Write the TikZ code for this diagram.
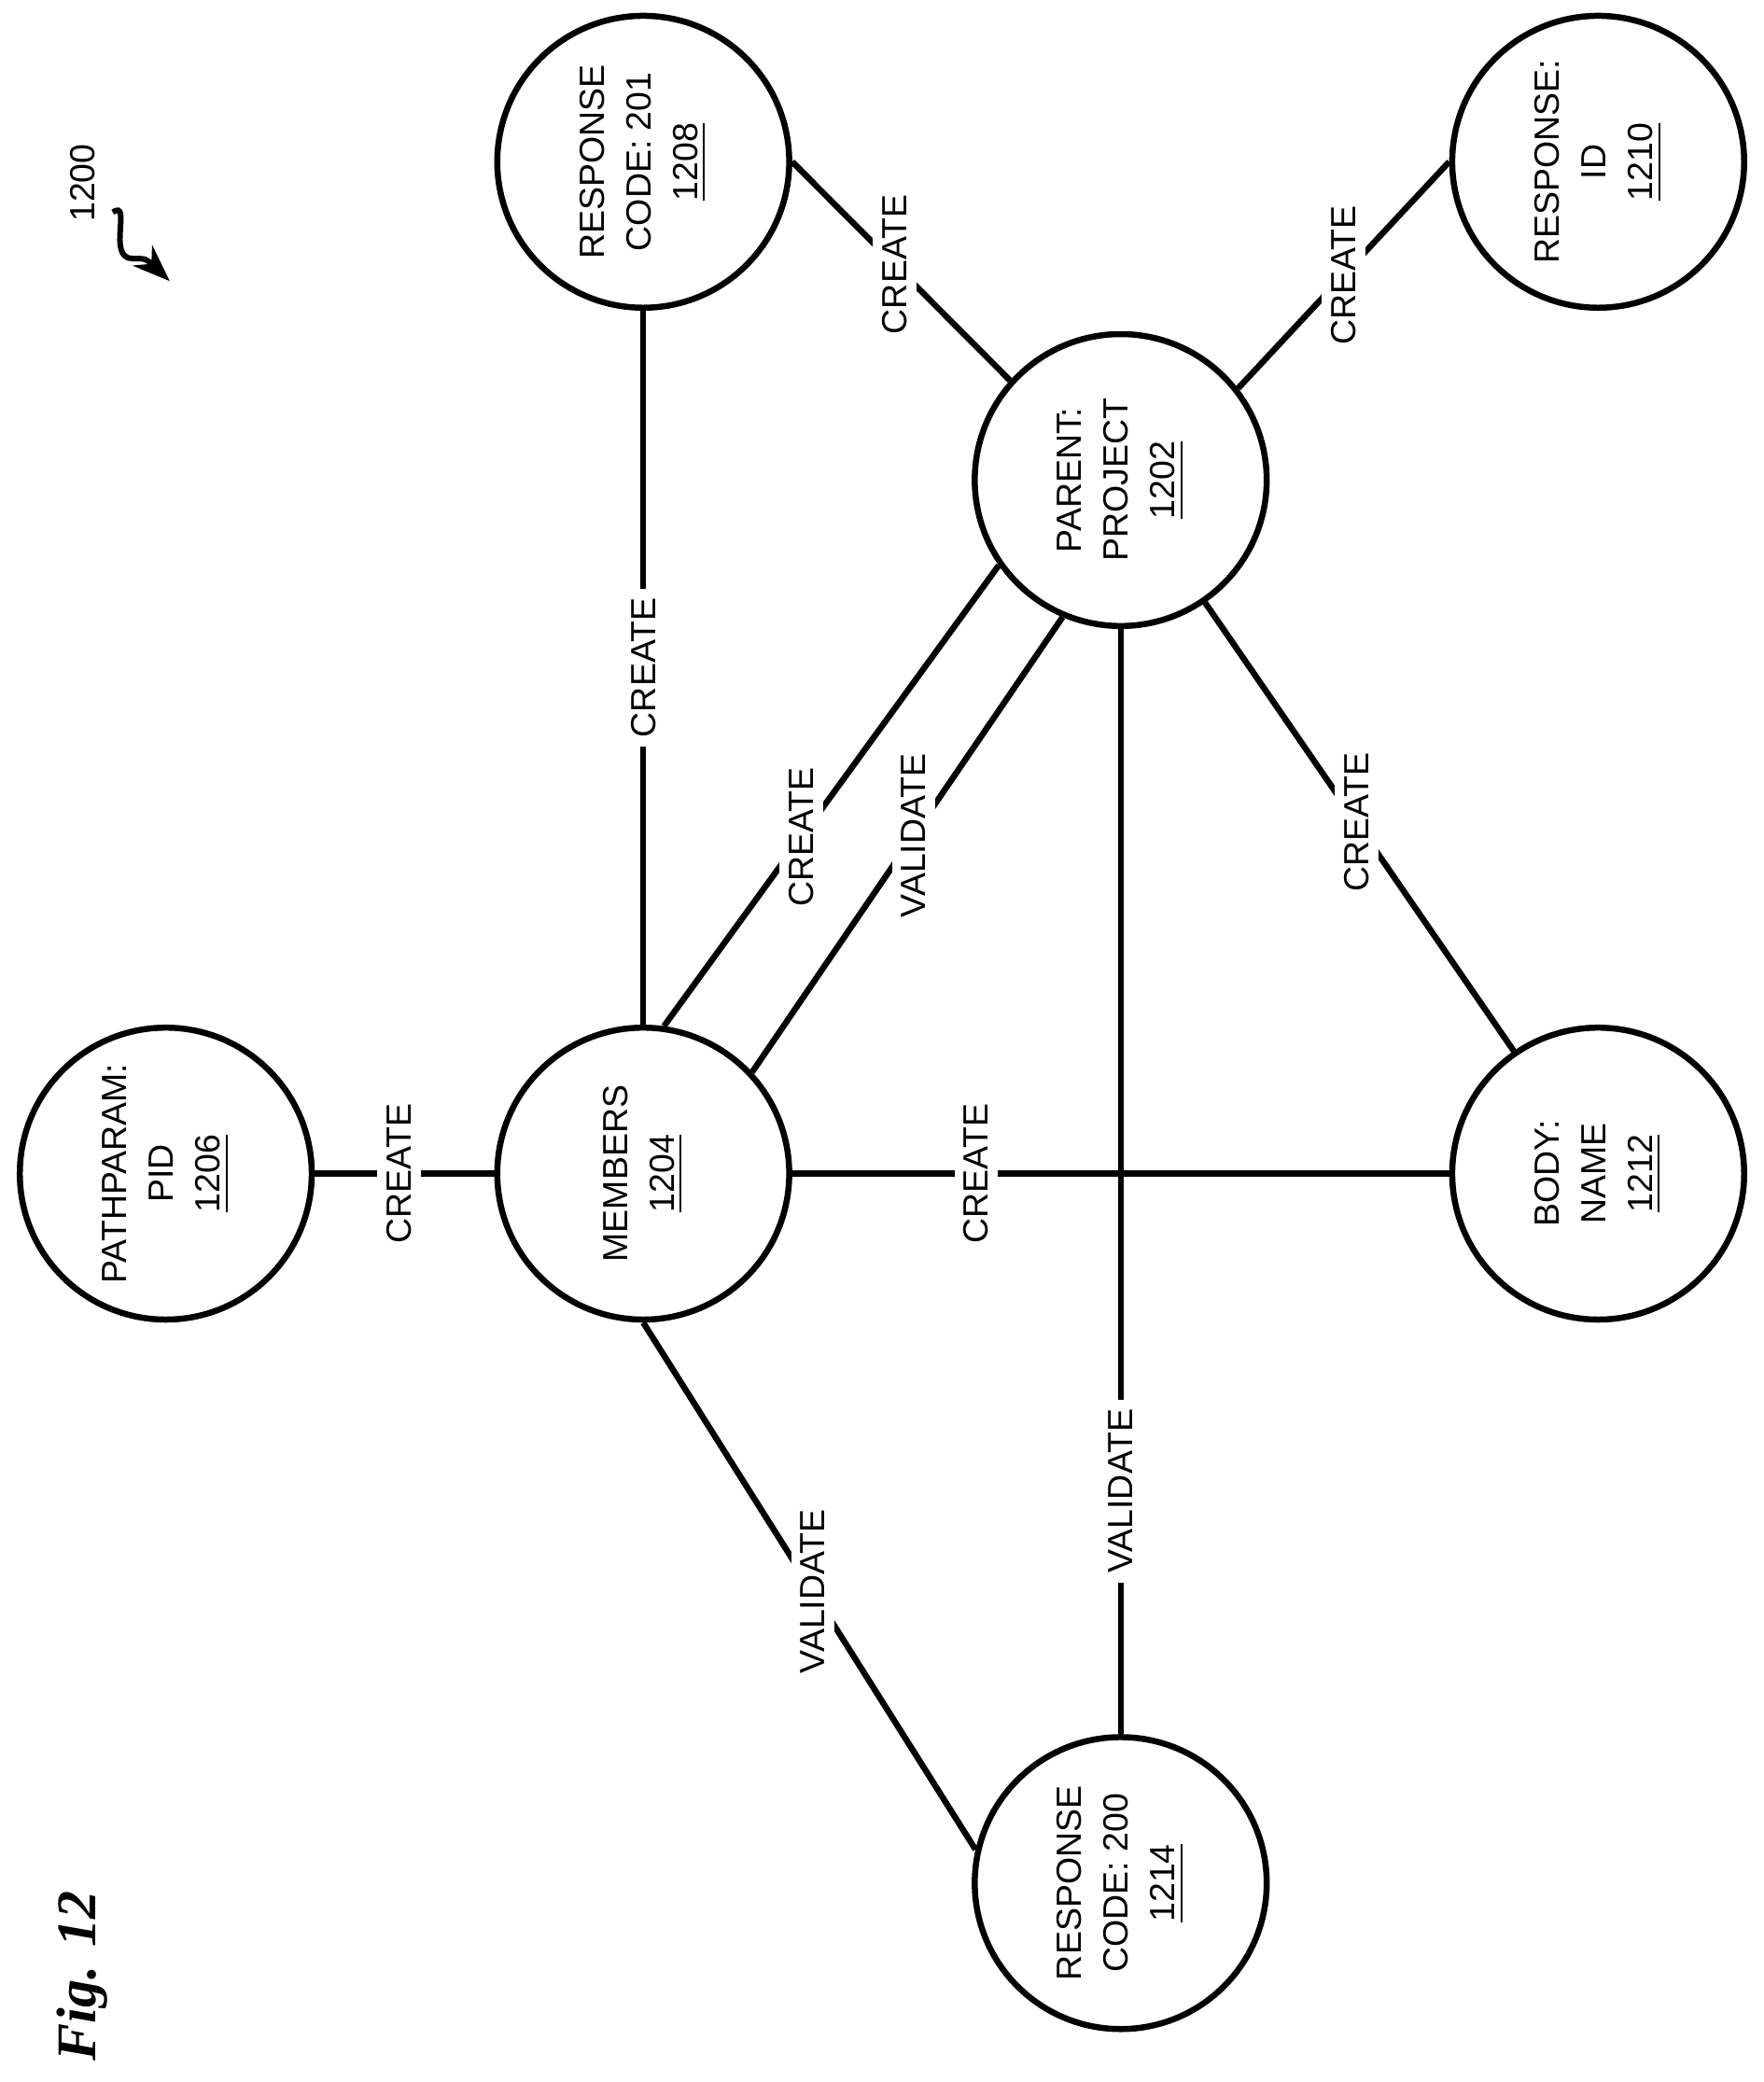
\documentclass[tikz,border=0pt]{standalone}
\usepackage{fontspec}
\setmainfont{Liberation Sans}
\newfontfamily\figfont{Liberation Serif}
\usetikzlibrary{arrows.meta}
\tikzset{
  param/.style={draw,circle,line width=1.3pt,minimum size=2.2cm,inner sep=0pt,
    rotate=90,align=center,font=\fontsize{7.5}{10}\selectfont},
  lbl/.style={fill=white,rotate=90,inner sep=2pt,font=\fontsize{7.5}{9}\selectfont},
  link/.style={line width=1.3pt}
}
\begin{document}
\begin{tikzpicture}[x=0.01cm,y=-0.01cm]
\useasboundingbox (0,0) rectangle (1330,1570);
% nodes (rotated, so anchor angles are turned by 90)
\node[param] (pid) at (125,885) {PATHPARAM:\\PID\\\underline{1206}};
\node[param] (mem) at (485,885) {MEMBERS\\\underline{1204}};
\node[param] (rc201) at (485,122) {RESPONSE\\CODE: 201\\\underline{1208}};
\node[param] (proj) at (845,362) {PARENT:\\PROJECT\\\underline{1202}};
\node[param] (rid) at (1205,122) {RESPONSE:\\ID\\\underline{1210}};
\node[param] (name) at (1205,885) {BODY:\\NAME\\\underline{1212}};
\node[param] (rc200) at (845,1420) {RESPONSE\\CODE: 200\\\underline{1214}};
% connectors
\draw[link] (pid) -- node[lbl,pos=0.47] {CREATE} (mem);
\draw[link] (mem) -- node[lbl] {CREATE} (rc201);
\draw[link] (mem.-8) -- node[lbl,pos=0.41] {CREATE} (proj.125);
\draw[link] (mem.-47) -- node[lbl,pos=0.52] {VALIDATE} (proj.157);
\draw[link] (rc201.-90) -- node[lbl,pos=0.47] {CREATE} (proj.48);
\draw[link] (proj.-52) -- node[lbl] {CREATE} (rid.90);
\draw[link] (proj) -- node[lbl,pos=0.49] {CREATE} (name);
\draw[link] (mem) -- node[lbl,pos=0.28] {CREATE} (name);
\draw[link] (proj.180) -- node[lbl,pos=0.78] {VALIDATE} (rc200.0);
\draw[link] (mem.180) -- node[lbl,pos=0.51] {VALIDATE} (rc200.77);
% figure labels
\node[rotate=90,font=\fontsize{7.5}{9}\selectfont] (ref) at (62,138) {1200};
\coordinate (tip) at (128,212);
\draw[line width=1.2pt,-{Stealth[length=8pt]}] (85,160) .. controls (100,150) and (80,195) .. (100,195) .. controls (110,195) .. (tip);
\node[rotate=90,font=\figfont\bfseries\itshape\fontsize{12}{14}\selectfont] (fig) at (62,1490) {Fig. 12};
\end{tikzpicture}
\end{document}
